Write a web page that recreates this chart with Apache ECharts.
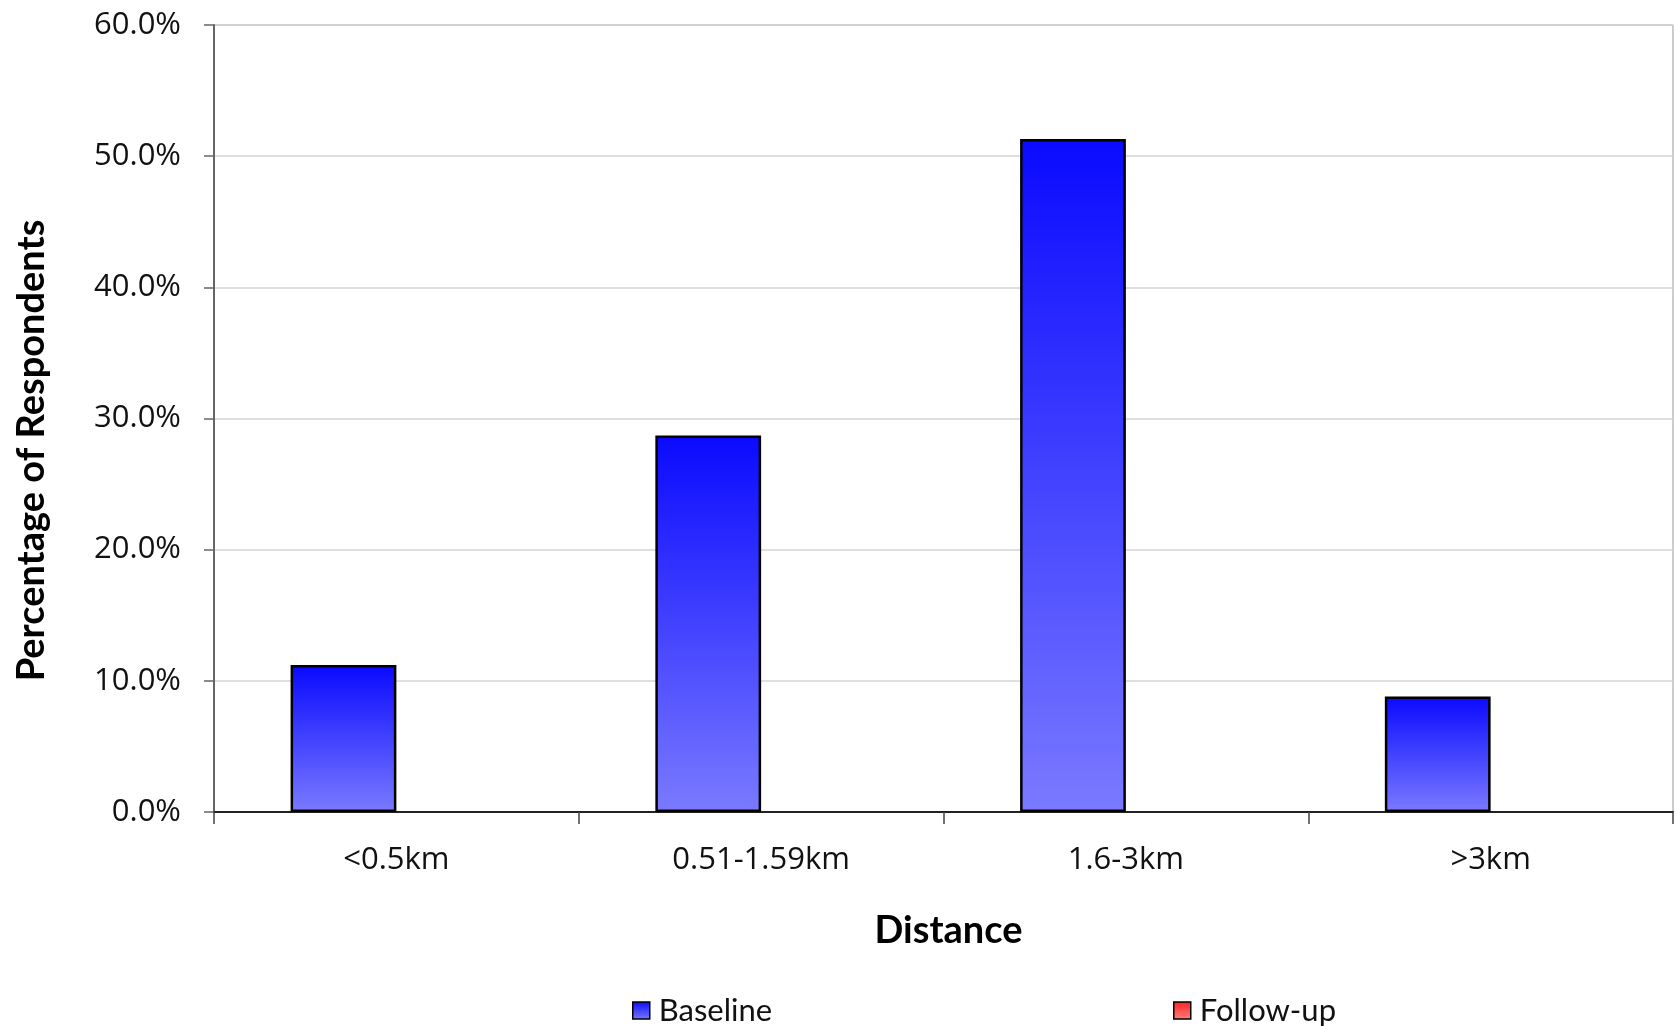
<!DOCTYPE html>
<html><head><meta charset="utf-8">
<script src="https://cdn.jsdelivr.net/npm/echarts@6/dist/echarts.min.js"></script>
<style>html,body{margin:0;padding:0;background:#fff}#c{width:1676px;height:1026px}</style>
</head><body><div id="c"></div>
<script>
const categories = ['<0.5km', '0.51-1.59km', '1.6-3km', '>3km'];
const baseline = [11.2, 28.7, 51.3, 8.8];
const followUp = [null, null, null, null];
const yTicks = { min: 0, max: 60, interval: 10 };

const chart = echarts.init(document.getElementById('c'));
const blueGrad = new echarts.graphic.LinearGradient(0, 0, 0, 1, [
  { offset: 0, color: '#0a0aff' }, { offset: 1, color: '#7a7aff' }]);
const redGrad = new echarts.graphic.LinearGradient(0, 0, 0, 1, [
  { offset: 0, color: '#ff2020' }, { offset: 1, color: '#ff8080' }]);
const tickFont = { fontFamily: 'Open Sans', fontSize: 31, color: '#111' };
const legendText = { fontFamily: 'Lato', fontSize: 31, color: '#111' };
chart.setOption({
  animation: false,
  grid: { left: 214, top: 25, right: 3, bottom: 214, show: true, borderColor: '#999', borderWidth: 1,
          containLabel: false, outerBoundsMode: 'none' },
  legend: [
    { data: ['Baseline'], left: 627, top: 990, itemWidth: 17, itemHeight: 17, icon: 'rect', itemGap: 10,
      itemStyle: { borderColor: '#000', borderWidth: 1.5 }, textStyle: Object.assign({ padding: [0, 0, 0, 4] }, legendText) },
    { data: ['Follow-up'], left: 1168, top: 990, itemWidth: 17, itemHeight: 17, icon: 'rect', itemGap: 10,
      itemStyle: { borderColor: '#000', borderWidth: 1.5 }, textStyle: Object.assign({ padding: [0, 0, 0, 4] }, legendText) }
  ],
  xAxis: {
    type: 'category', data: categories,
    name: 'Distance', nameLocation: 'middle', nameGap: 100,
    nameTextStyle: { fontFamily: 'Lato', fontWeight: 'bold', fontSize: 38, color: '#000', padding: [0, 0, 0, 10] },
    axisLine: { lineStyle: { color: '#222', width: 2 } },
    axisTick: { show: true, alignWithLabel: false, length: 12, lineStyle: { color: '#444', width: 1.5 } },
    axisLabel: Object.assign({ margin: 33 }, tickFont)
  },
  yAxis: {
    type: 'value', min: yTicks.min, max: yTicks.max, interval: yTicks.interval,
    name: 'Percentage of Respondents', nameLocation: 'middle', nameGap: 163,
    nameTextStyle: { fontFamily: 'Lato', fontWeight: 'bold', fontSize: 38, color: '#000', padding: [0, 64, 0, 0] },
    axisLine: { show: true, lineStyle: { color: '#666', width: 2 } },
    axisTick: { show: true, length: 10, lineStyle: { color: '#666', width: 1.5 } },
    splitLine: { lineStyle: { color: '#d4d4d4', width: 1.5 } },
    axisLabel: Object.assign({ margin: 33, formatter: v => v.toFixed(1) + '%' }, tickFont)
  },
  series: [
    { name: 'Baseline', type: 'bar', data: baseline, barWidth: '29%', barGap: '0%',
      itemStyle: { color: blueGrad, borderColor: '#000', borderWidth: 2.5 } },
    { name: 'Follow-up', type: 'bar', data: followUp, barWidth: '29%', barGap: '0%',
      itemStyle: { color: redGrad, borderColor: '#000', borderWidth: 2.5 } }
  ]
});
</script></body></html>
